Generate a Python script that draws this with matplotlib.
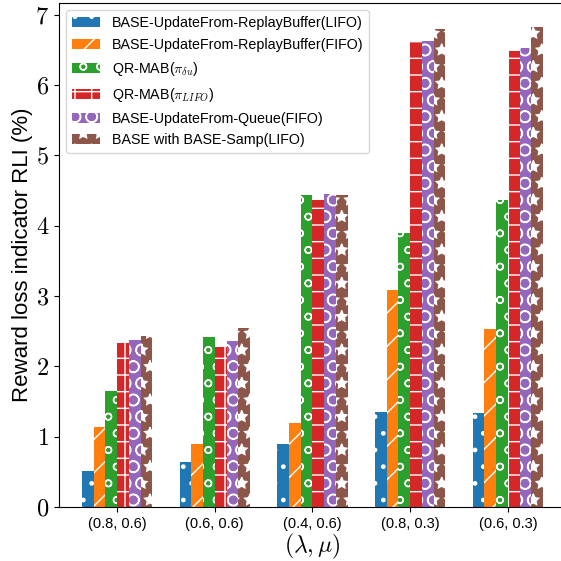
import numpy as np
import matplotlib
matplotlib.use("Agg")
import matplotlib.pyplot as plt
from matplotlib.ticker import FuncFormatter

plt.rcParams['mathtext.fontset'] = 'cm'
plt.rcParams['font.family'] = ['Liberation Sans', 'DejaVu Sans']
plt.rcParams['hatch.linewidth'] = 1.0

# (lambda, mu) settings
groups = ['(0.8, 0.6)', '(0.6, 0.6)', '(0.4, 0.6)', '(0.8, 0.3)', '(0.6, 0.3)']

labels = ['BASE-UpdateFrom-ReplayBuffer(LIFO)',
          'BASE-UpdateFrom-ReplayBuffer(FIFO)',
          r'QR-MAB($\pi_{\delta u}$)',
          r'QR-MAB($\pi_{LIFO}$)',
          'BASE-UpdateFrom-Queue(FIFO)',
          'BASE with BASE-Samp(LIFO)']

# reward loss indicator (%), one list per method
rli_replay_lifo = [0.51, 0.64, 0.90, 1.35, 1.33]
rli_replay_fifo = [1.13, 0.89, 1.19, 3.09, 2.53]
rli_qrmab_du = [1.65, 2.41, 4.44, 3.90, 4.37]
rli_qrmab_lifo = [2.33, 2.28, 4.36, 6.63, 6.48]
rli_queue_fifo = [2.37, 2.36, 4.45, 6.63, 6.53]
rli_basesamp = [2.43, 2.55, 4.43, 6.80, 6.82]

series = [rli_replay_lifo, rli_replay_fifo, rli_qrmab_du,
          rli_qrmab_lifo, rli_queue_fifo, rli_basesamp]
colors = ['#1f77b4', '#ff7f0e', '#2ca02c', '#d62728', '#9467bd', '#8c564b']
hatches = ['.', '/', 'o', '+', 'O', '*']

fig = plt.figure(figsize=(5.61, 5.61), dpi=100)
ax = fig.add_axes([0.105, 0.0963, 0.904, 0.898])

x = np.arange(len(groups))
width = 0.12
for i, (vals, lab, c, h) in enumerate(zip(series, labels, colors, hatches)):
    ax.bar(x + (i - 2.5) * width, vals, width, label=lab, color=c,
           hatch=h, edgecolor='white', linewidth=0)

ax.set_xticks(x)
ax.set_xticklabels(groups, fontsize=10.5)
ax.yaxis.set_major_formatter(FuncFormatter(lambda v, p: r'$%d$' % v))
ax.tick_params(axis='y', labelsize=17.5)
ax.set_ylabel('Reward loss indicator RLI (%)', fontsize=16, labelpad=2)
ax.set_xlabel(r'$(\lambda, \mu)$', fontsize=17, labelpad=1)
ax.legend(loc='upper left', fontsize=10.3, labelspacing=0.55)

fig.savefig('out.png', dpi=100)
